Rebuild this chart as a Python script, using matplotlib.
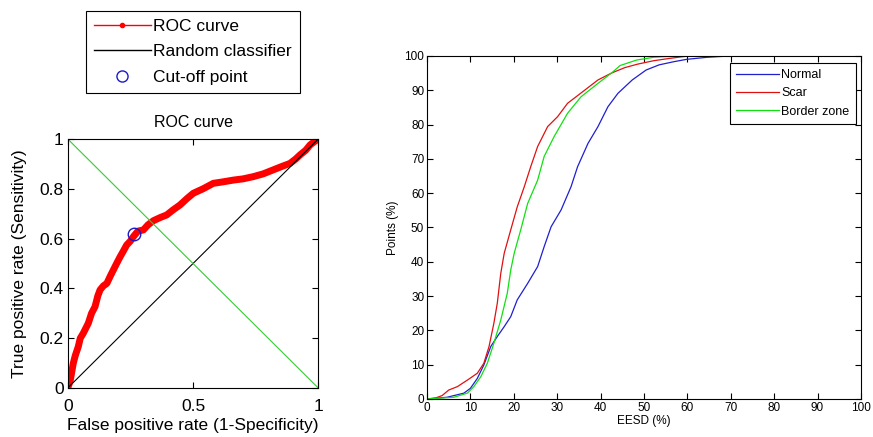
import matplotlib.pyplot as plt
from matplotlib.lines import Line2D

plt.rcParams['font.family'] = ['Liberation Sans', 'DejaVu Sans']

# ROC curve
roc_fpr = [0.0, 0.01, 0.022, 0.03, 0.042, 0.05, 0.062, 0.072, 0.082, 0.095, 0.109, 0.12,
           0.129, 0.142, 0.156, 0.17, 0.182, 0.195, 0.209, 0.222, 0.235, 0.25, 0.262,
           0.28, 0.302, 0.32, 0.342, 0.37, 0.395, 0.42, 0.448, 0.475, 0.501, 0.54,
           0.581, 0.62, 0.661, 0.70, 0.741, 0.78, 0.82, 0.855, 0.887, 0.91, 0.927,
           0.95, 0.967, 0.985, 1.0]
roc_tpr = [0.0, 0.03, 0.099, 0.13, 0.166, 0.2, 0.22, 0.24, 0.26, 0.30, 0.327, 0.37,
           0.394, 0.41, 0.42, 0.45, 0.474, 0.50, 0.527, 0.55, 0.574, 0.59, 0.608,
           0.63, 0.635, 0.655, 0.672, 0.685, 0.695, 0.715, 0.735, 0.76, 0.782, 0.80,
           0.822, 0.828, 0.835, 0.84, 0.849, 0.86, 0.876, 0.89, 0.902, 0.92, 0.936,
           0.955, 0.976, 0.99, 1.0]
cutoff_fpr = [0.265]
cutoff_tpr = [0.618]

# cumulative EESD distributions
normal_x = [0, 4.6, 8.5, 10, 11.6, 13.1, 14.7, 16.2, 17.8, 19.3, 20.8, 23.2, 25.5, 27,
            28.6, 30.9, 33.2, 34.7, 37.1, 39.4, 41.7, 44, 47.3, 50.5, 53.5, 56.8,
            59.8, 64.5, 69.8, 80, 90.6]
normal_y = [0, 0.5, 1.7, 3.1, 6, 9.9, 15.3, 18.2, 21.1, 24, 28.9, 33.7, 38.6, 44.4,
            50.2, 55.1, 61.9, 67.7, 74.5, 79.4, 85.2, 89.1, 93, 95.9, 97.4, 98.3,
            99, 99.6, 100, 100, 100]

scar_x = [0, 2, 3.5, 5, 7, 9.3, 11.6, 13.1, 14.3, 15.4, 16.2, 17, 17.8, 19.3, 20.8,
          22.4, 23.9, 25.5, 27.8, 30.1, 32.4, 35.5, 39.4, 42.5, 45.6, 48.5, 52.2,
          56, 59, 60.5]
scar_y = [0, 0.3, 1, 2.6, 3.6, 5.5, 7.5, 10.4, 15.3, 22, 27.9, 36.6, 42.5, 49.3, 56,
          61.8, 67.7, 73.6, 79.4, 82.3, 86.2, 89.2, 93, 95, 96.6, 97.6, 98.6,
          99.3, 99.8, 100]

border_x = [0, 6.2, 9.3, 10.8, 12.4, 13.9, 15.4, 17, 18.5, 19.3, 20.1, 21.6, 23.2,
            25.5, 27, 29.3, 32.4, 35.5, 39.4, 42.5, 44.5, 48.3, 52.2, 54.5, 58, 63]
border_y = [0, 0.5, 1.7, 3.6, 6.5, 10.4, 16.2, 23, 30.8, 37.6, 42.5, 49.3, 57,
            63.8, 70.7, 76.5, 83.3, 88.1, 92, 95, 97.2, 98.8, 99.6, 99.8, 99.9, 100]

fig = plt.figure(figsize=(8.73, 4.37), dpi=100)

# ---------------- left: ROC ----------------
ax1 = fig.add_axes([0.0776, 0.1121, 0.287, 0.5698])
ax1.plot(roc_fpr, roc_tpr, color='red', lw=5, solid_joinstyle='round',
         solid_capstyle='round')
ax1.plot([0, 1], [0, 1], color='black', lw=0.8)
ax1.plot([0, 1], [1, 0], color='#33cc33', lw=0.8)
ax1.plot(cutoff_fpr, cutoff_tpr, 'o', mfc='none', mec='#1a1acc', ms=9, mew=1)
ax1.set_xlim(0, 1)
ax1.set_ylim(0, 1)
ax1.set_xticks([0, 0.5, 1])
ax1.set_xticklabels(['0', '0.5', '1'])
ax1.set_yticks([0, 0.2, 0.4, 0.6, 0.8, 1])
ax1.set_yticklabels(['0', '0.2', '0.4', '0.6', '0.8', '1'])
ax1.tick_params(direction='in', top=True, right=True, length=4, labelsize=12.5)
ax1.tick_params(axis='x', pad=8)
ax1.tick_params(axis='y', pad=3)
ax1.set_title('ROC curve', fontsize=11.5, pad=9)
ax1.set_xlabel('False positive rate (1-Specificity)', fontsize=12.5, labelpad=3)
ax1.set_ylabel('True positive rate (Sensitivity)', fontsize=12.5, labelpad=9)
for s in ax1.spines.values():
    s.set_linewidth(0.8)

handles = [Line2D([], [], color='red', lw=1, marker='.', ms=6),
           Line2D([], [], color='black', lw=1),
           Line2D([], [], ls='none', marker='o', mfc='none', mec='#1a1acc', ms=8)]
fig.legend(handles, ['ROC curve', 'Random classifier', 'Cut-off point'],
           loc='upper left', bbox_to_anchor=(0.0982, 0.975), fontsize=12.5,
           handlelength=3.3, handletextpad=0.15, labelspacing=0.6,
           borderpad=0.45, borderaxespad=0, fancybox=False, framealpha=1,
           edgecolor='black').get_frame().set_linewidth(0.8)

# ---------------- right: distributions ----------------
ax2 = fig.add_axes([0.4891, 0.087, 0.4971, 0.785])
ax2.plot(normal_x, normal_y, color='#1f1fd0', lw=0.9, label='Normal')
ax2.plot(scar_x, scar_y, color='#e01010', lw=0.9, label='Scar')
ax2.plot(border_x, border_y, color='#10e010', lw=0.9, label='Border zone')
ax2.set_xlim(0, 100)
ax2.set_ylim(0, 100)
ax2.set_xticks(range(0, 101, 10))
ax2.set_yticks(range(0, 101, 10))
ax2.tick_params(direction='in', top=True, right=True, length=4, labelsize=8.5, pad=2)
ax2.set_xlabel('EESD (%)', fontsize=8.5, labelpad=1)
ax2.set_ylabel('Points (%)', fontsize=8.5, labelpad=4)
for s in ax2.spines.values():
    s.set_linewidth(0.8)
leg = ax2.legend(loc='upper right', bbox_to_anchor=(0.988, 0.98), fontsize=9,
                 handlelength=3.4, handletextpad=0.2, labelspacing=0.5,
                 borderpad=0.5, borderaxespad=0, fancybox=False, framealpha=1,
                 edgecolor='black')
leg.get_frame().set_linewidth(0.8)

fig.savefig('out.png', dpi=100)
